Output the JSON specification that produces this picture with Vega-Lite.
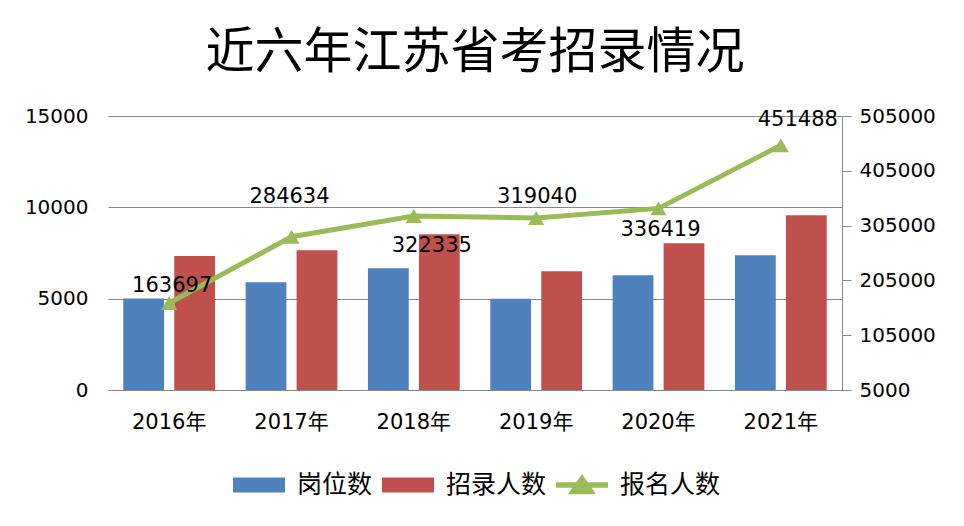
{
  "$schema": "https://vega.github.io/schema/vega-lite/v6.json",
  "width": 734,
  "height": 274,
  "autosize": {"type": "none"},
  "padding": {"left": 108, "top": 116, "right": 122, "bottom": 136},
  "background": "white",
  "title": {
    "text": "近六年江苏省考招录情况",
    "font": "Noto Sans CJK SC",
    "fontSize": 49,
    "fontWeight": "normal",
    "color": "#000000",
    "anchor": "middle",
    "offset": 28
  },
  "config": {"view": {"stroke": null}, "font": "DejaVu Sans"},
  "datasets": {
    "bars": [
      {"year": "2016年", "series": "岗位数", "value": 5010},
      {"year": "2016年", "series": "招录人数", "value": 7340},
      {"year": "2017年", "series": "岗位数", "value": 5900},
      {"year": "2017年", "series": "招录人数", "value": 7650},
      {"year": "2018年", "series": "岗位数", "value": 6660},
      {"year": "2018年", "series": "招录人数", "value": 8520},
      {"year": "2019年", "series": "岗位数", "value": 4990},
      {"year": "2019年", "series": "招录人数", "value": 6500},
      {"year": "2020年", "series": "岗位数", "value": 6280},
      {"year": "2020年", "series": "招录人数", "value": 8030},
      {"year": "2021年", "series": "岗位数", "value": 7370},
      {"year": "2021年", "series": "招录人数", "value": 9560}
    ],
    "line": [
      {"year": "2016年", "applicants": 163697},
      {"year": "2017年", "applicants": 284634},
      {"year": "2018年", "applicants": 322335},
      {"year": "2019年", "applicants": 319040},
      {"year": "2020年", "applicants": 336419},
      {"year": "2021年", "applicants": 451488}
    ]
  },
  "layer": [
    {
      "data": {"name": "bars"},
      "mark": {"type": "bar"},
      "encoding": {
        "x": {
          "field": "year", "type": "nominal", "sort": null,
          "scale": {"paddingInner": 0.25, "paddingOuter": 0.125},
          "axis": {
            "title": null, "labelAngle": 0,
            "labelFont": "DejaVu Sans, Noto Sans CJK SC", "labelFontSize": 21, "labelColor": "#000000",
            "domainColor": "#888888", "domainWidth": 1, "ticks": false, "labelPadding": 21
          }
        },
        "xOffset": {"field": "series", "type": "nominal", "sort": ["岗位数", "招录人数"], "scale": {"paddingInner": 0.2}},
        "y": {
          "field": "value", "type": "quantitative",
          "scale": {"domain": [0, 15000], "nice": false},
          "axis": {
            "title": null, "values": [0, 5000, 10000, 15000], "format": "d",
            "grid": true, "gridColor": "#888888", "gridWidth": 1,
            "domain": false, "ticks": false, "labelPadding": 20,
            "labelFont": "DejaVu Sans", "labelFontSize": 20, "labelColor": "#000000"
          }
        },
        "color": {
          "field": "series", "type": "nominal",
          "scale": {"domain": ["岗位数", "招录人数", "报名人数"], "range": ["#4F81BD", "#C0504D", "#9BBB59"]},
          "legend": {
            "title": null, "orient": "none", "legendX": 125, "legendY": 343,
            "direction": "horizontal", "padding": 0,
            "symbolSize": 2704, "symbolStrokeWidth": 0, "symbolOpacity": 1,
            "labelFont": "Noto Sans CJK SC", "labelFontSize": 25, "labelColor": "#000000",
            "labelOffset": 12, "columnPadding": 9,
            "encode": {
              "symbols": {
                "update": {
                  "shape": {"signal": "datum.value === '报名人数' ? 'M-1,-0.11H1V0.11H-1Z M-0.54,0.36L0,-0.42L0.54,0.36Z' : 'M-1,-0.29H1V0.29H-1Z'"}
                }
              }
            }
          }
        }
      }
    },
    {
      "data": {"name": "line"},
      "layer": [
        {
          "mark": {"type": "line", "color": "#9BBB59", "strokeWidth": 5},
          "encoding": {
            "x": {"field": "year", "type": "nominal", "sort": null},
            "y": {
              "field": "applicants", "type": "quantitative",
              "scale": {"domain": [5000, 505000], "nice": false, "zero": false},
              "axis": {
                "orient": "right", "title": null, "format": "d",
                "values": [5000, 105000, 205000, 305000, 405000, 505000],
                "grid": false, "domainColor": "#888888", "tickColor": "#888888",
                "tickSize": 9, "labelPadding": 8,
                "labelFont": "DejaVu Sans", "labelFontSize": 20, "labelColor": "#000000"
              }
            }
          }
        },
        {
          "mark": {"type": "point", "shape": "triangle-up", "filled": true, "color": "#9BBB59", "size": 260, "opacity": 1},
          "encoding": {
            "x": {"field": "year", "type": "nominal", "sort": null},
            "y": {"field": "applicants", "type": "quantitative"}
          }
        },
        {
          "transform": [{"filter": "datum.year === '2016年'"}],
          "mark": {"type": "text", "dx": 3, "dy": -17, "font": "DejaVu Sans", "fontSize": 21, "color": "#000000"},
          "encoding": {
            "x": {"field": "year", "type": "nominal", "sort": null},
            "y": {"field": "applicants", "type": "quantitative"},
            "text": {"field": "applicants", "type": "quantitative", "format": "d"}
          }
        },
        {
          "transform": [{"filter": "datum.year === '2017年'"}],
          "mark": {"type": "text", "dx": -2, "dy": -40, "font": "DejaVu Sans", "fontSize": 21, "color": "#000000"},
          "encoding": {
            "x": {"field": "year", "type": "nominal", "sort": null},
            "y": {"field": "applicants", "type": "quantitative"},
            "text": {"field": "applicants", "type": "quantitative", "format": "d"}
          }
        },
        {
          "transform": [{"filter": "datum.year === '2018年'"}],
          "mark": {"type": "text", "dx": 18, "dy": 30, "font": "DejaVu Sans", "fontSize": 21, "color": "#000000"},
          "encoding": {
            "x": {"field": "year", "type": "nominal", "sort": null},
            "y": {"field": "applicants", "type": "quantitative"},
            "text": {"field": "applicants", "type": "quantitative", "format": "d"}
          }
        },
        {
          "transform": [{"filter": "datum.year === '2019年'"}],
          "mark": {"type": "text", "dx": 1, "dy": -21, "font": "DejaVu Sans", "fontSize": 21, "color": "#000000"},
          "encoding": {
            "x": {"field": "year", "type": "nominal", "sort": null},
            "y": {"field": "applicants", "type": "quantitative"},
            "text": {"field": "applicants", "type": "quantitative", "format": "d"}
          }
        },
        {
          "transform": [{"filter": "datum.year === '2020年'"}],
          "mark": {"type": "text", "dx": 2, "dy": 22, "font": "DejaVu Sans", "fontSize": 21, "color": "#000000"},
          "encoding": {
            "x": {"field": "year", "type": "nominal", "sort": null},
            "y": {"field": "applicants", "type": "quantitative"},
            "text": {"field": "applicants", "type": "quantitative", "format": "d"}
          }
        },
        {
          "transform": [{"filter": "datum.year === '2021年'"}],
          "mark": {"type": "text", "dx": 17, "dy": -25, "font": "DejaVu Sans", "fontSize": 21, "color": "#000000"},
          "encoding": {
            "x": {"field": "year", "type": "nominal", "sort": null},
            "y": {"field": "applicants", "type": "quantitative"},
            "text": {"field": "applicants", "type": "quantitative", "format": "d"}
          }
        }
      ]
    }
  ],
  "resolve": {"scale": {"y": "independent"}}
}
